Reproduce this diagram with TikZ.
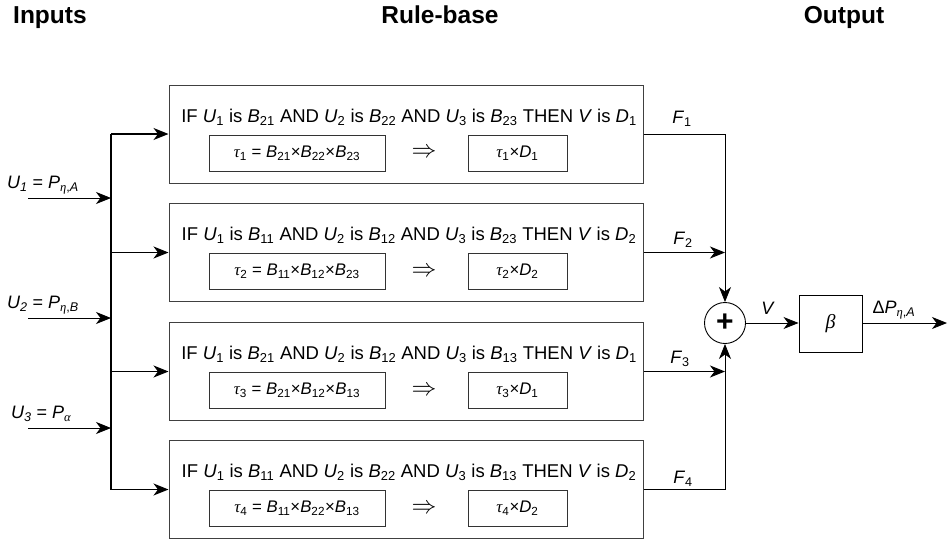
\documentclass[tikz,border=0pt]{standalone}
\usepackage{fontspec}
\setmainfont{Liberation Sans}
\newfontfamily\grk{Liberation Serif}
\usetikzlibrary{arrows.meta}
\newcommand\sbs[1]{\textsubscript{#1}}
\newcommand\gt[1]{{\grk\itshape #1}}
\newcommand\mx{\texttimes}
\begin{document}
\begin{tikzpicture}[x=1pt,y=-1pt,
  ln/.style={draw=black, line width=0.9pt},
  arr/.style={ln,-{Stealth[length=15pt,width=12pt,inset=4.5pt]}},
  bus/.style={draw=black, line width=1.6pt},
  rulebox/.style={draw=black!75, line width=1pt, minimum width=474pt, minimum height=98pt, inner sep=0pt},
  inbox/.style={draw=black!80, line width=0.9pt, minimum height=36pt, inner sep=0pt, font=\fontsize{16.8}{19}\selectfont},
  txt/.style={inner sep=0pt, font=\fontsize{18.5}{22}\selectfont},
  impl/.style={inner sep=0pt, font=\fontsize{24}{26}\selectfont},
  ttl/.style={inner sep=0pt, font=\fontsize{24.5}{28}\selectfont\bfseries},
  lbl/.style={inner sep=0pt, font=\fontsize{18}{21}\selectfont}
]
\useasboundingbox (0,0) rectangle (948,544);
% titles
\node[ttl, anchor=base west] (tin) at (13,23) {Inputs};
\node[ttl, anchor=base] (trb) at (440,23) {Rule-base};
\node[ttl, anchor=base] (tout) at (844,23) {Output};
% rule boxes
\node[rulebox] (r1) at (406,134) {};
\node[rulebox] (r2) at (406,252.5) {};
\node[rulebox] (r3) at (406,371.5) {};
\node[rulebox] (r4) at (406,489.5) {};
% rule texts
\node[txt] (t1) at (409,117) {IF \textit{U}\sbs{1} is \textit{B}\sbs{21} AND \textit{U}\sbs{2} is \textit{B}\sbs{22} AND \textit{U}\sbs{3} is \textit{B}\sbs{23} THEN \textit{V} is \textit{D}\sbs{1}};
\node[txt] (t2) at (409,235.5) {IF \textit{U}\sbs{1} is \textit{B}\sbs{11} AND \textit{U}\sbs{2} is \textit{B}\sbs{12} AND \textit{U}\sbs{3} is \textit{B}\sbs{23} THEN \textit{V} is \textit{D}\sbs{2}};
\node[txt] (t3) at (409,354.5) {IF \textit{U}\sbs{1} is \textit{B}\sbs{21} AND \textit{U}\sbs{2} is \textit{B}\sbs{12} AND \textit{U}\sbs{3} is \textit{B}\sbs{13} THEN \textit{V} is \textit{D}\sbs{1}};
\node[txt] (t4) at (409,472.5) {IF \textit{U}\sbs{1} is \textit{B}\sbs{11} AND \textit{U}\sbs{2} is \textit{B}\sbs{22} AND \textit{U}\sbs{3} is \textit{B}\sbs{13} THEN \textit{V} is \textit{D}\sbs{2}};
% inner boxes
\node[inbox, minimum width=176pt] (a1) at (297,153) {\gt{τ}\sbs{1} = \textit{B}\sbs{21}\mx\textit{B}\sbs{22}\mx\textit{B}\sbs{23}};
\node[impl] (i1) at (424,153) {$\Rightarrow$};
\node[inbox, minimum width=99pt] (c1) at (517.5,153) {\gt{τ}\sbs{1}\mx\textit{D}\sbs{1}};
\node[inbox, minimum width=176pt] (a2) at (297,271.5) {\gt{τ}\sbs{2} = \textit{B}\sbs{11}\mx\textit{B}\sbs{12}\mx\textit{B}\sbs{23}};
\node[impl] (i2) at (424,271.5) {$\Rightarrow$};
\node[inbox, minimum width=99pt] (c2) at (517.5,271.5) {\gt{τ}\sbs{2}\mx\textit{D}\sbs{2}};
\node[inbox, minimum width=176pt] (a3) at (297,390.5) {\gt{τ}\sbs{3} = \textit{B}\sbs{21}\mx\textit{B}\sbs{12}\mx\textit{B}\sbs{13}};
\node[impl] (i3) at (424,390.5) {$\Rightarrow$};
\node[inbox, minimum width=99pt] (c3) at (517.5,390.5) {\gt{τ}\sbs{3}\mx\textit{D}\sbs{1}};
\node[inbox, minimum width=176pt] (a4) at (297,508.5) {\gt{τ}\sbs{4} = \textit{B}\sbs{11}\mx\textit{B}\sbs{22}\mx\textit{B}\sbs{13}};
\node[impl] (i4) at (424,508.5) {$\Rightarrow$};
\node[inbox, minimum width=99pt] (c4) at (517.5,508.5) {\gt{τ}\sbs{4}\mx\textit{D}\sbs{2}};
% inputs
\coordinate (u1s) at (28,198);
\coordinate (u2s) at (28,318);
\coordinate (u3s) at (28,428);
\coordinate (bt) at (111,134);
\coordinate (bb) at (111,489.5);
\node[lbl, anchor=west] (l1) at (7,185) {\textit{U\textsubscript{1}} = \textit{P}\textsubscript{\gt{η},\textit{A}}};
\node[lbl, anchor=west] (l2) at (7,305) {\textit{U\textsubscript{2}} = \textit{P}\textsubscript{\gt{η},\textit{B}}};
\node[lbl, anchor=west] (l3) at (11,414) {\textit{U\textsubscript{3}} = \textit{P}\textsubscript{\gt{α}}};
\draw[bus] (bt) -- (bb);
\draw[arr] (u1s) -- (u1s -| bt);
\draw[arr] (u2s) -- (u2s -| bt);
\draw[arr] (u3s) -- (u3s -| bt);
\draw[arr, line width=1.4pt] (bt) -- (r1.west);
\draw[arr] (r2.west -| bt) -- (r2.west);
\draw[arr] (r3.west -| bt) -- (r3.west);
\draw[arr, line width=1.4pt] (bb) -- (r4.west);
% summation
\node[draw, circle, line width=0.9pt, minimum size=41pt, inner sep=0pt, font=\fontsize{30}{32}\selectfont\bfseries] (sum) at (725,323) {+};
\draw[arr] (r1.east) -| (sum.north);
\draw[arr] (r2.east) -- (r2.east -| sum);
\draw[arr] (r3.east) -- (r3.east -| sum);
\draw[arr] (r4.east) -| (sum.south);
\node[lbl] (f1) at (682,119) {\textit{F}\sbs{1}};
\node[lbl] (f2) at (683,240) {\textit{F}\sbs{2}};
\node[lbl] (f3) at (680,359) {\textit{F}\sbs{3}};
\node[lbl] (f4) at (683,479) {\textit{F}\sbs{4}};
% beta and output
\node[draw, line width=0.9pt, minimum width=63pt, minimum height=57pt, inner sep=0pt, font=\fontsize{20}{22}\selectfont] (beta) at (830.5,323.5) {\gt{β}};
\coordinate (out) at (947,323);
\draw[arr] (sum.east) -- (sum.east -| beta.west);
\draw[arr] (beta.east |- out) -- (out);
\node[lbl] (vl) at (768,308) {\textit{V}};
\node[lbl] (dl) at (894,310) {Δ\textit{P}\textsubscript{\gt{η},\textit{A}}};
\end{tikzpicture}
\end{document}
